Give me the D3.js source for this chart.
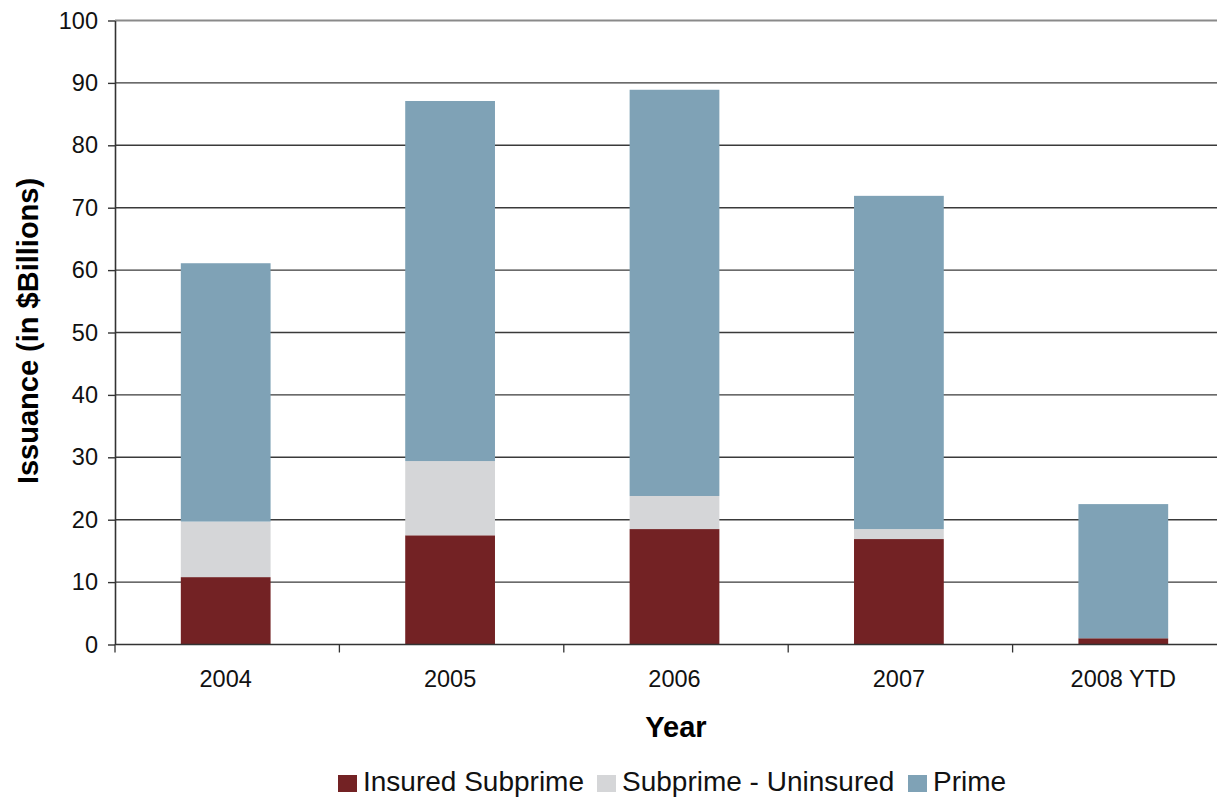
<!DOCTYPE html>
<html>
<head>
<meta charset="utf-8">
<script src="https://cdn.jsdelivr.net/npm/d3@7"></script>
<style>
  html, body { margin: 0; padding: 0; background: #fff; }
  svg { display: block; font-family: "Liberation Sans", Arial, sans-serif; }
</style>
</head>
<body>
<svg id="chart" width="1217" height="798"></svg>
<script>
// Issuance by year, stacked by segment ($ billions)
const years = ["2004", "2005", "2006", "2007", "2008 YTD"];
const insuredSubprime = [10.8, 17.5, 18.5, 16.9, 1.0];
const subprimeUninsured = [8.9, 11.9, 5.3, 1.6, 0.0];
const prime = [41.4, 57.7, 65.1, 53.4, 21.5];

const seriesNames = ["Insured Subprime", "Subprime - Uninsured", "Prime"];
const seriesColors = ["#732224", "#d5d6d8", "#7fa2b6"];
const yTicks = [0, 10, 20, 30, 40, 50, 60, 70, 80, 90, 100];

const svg = d3.select("#chart");
const margin = { left: 115, right: 1237, top: 20.5, bottom: 644.5 };

const x = d3.scaleBand().domain(years).range([margin.left, margin.right]).paddingInner(0.6).paddingOuter(0.3);
const xEdges = d3.scaleBand().domain(years).range([margin.left, margin.right]);
const y = d3.scaleLinear().domain([0, 100]).range([margin.bottom, margin.top]);

const rows = years.map((yr, i) => ({
  year: yr,
  "Insured Subprime": insuredSubprime[i],
  "Subprime - Uninsured": subprimeUninsured[i],
  "Prime": prime[i]
}));
const stacked = d3.stack().keys(seriesNames)(rows);

// horizontal gridlines
svg.append("g")
  .selectAll("line")
  .data(yTicks.filter(t => t > 0))
  .join("line")
  .attr("x1", margin.left).attr("x2", margin.right)
  .attr("y1", d => y(d)).attr("y2", d => y(d))
  .attr("stroke", d => d === 100 ? "#8a8a8a" : "#3a3a3a")
  .attr("stroke-width", d => d === 100 ? 2.2 : 1.4);

// stacked bars
svg.append("g")
  .selectAll("g")
  .data(stacked)
  .join("g")
  .attr("fill", (d, i) => seriesColors[i])
  .selectAll("rect")
  .data(d => d)
  .join("rect")
  .attr("x", d => x(d.data.year) - 1.5)
  .attr("width", x.bandwidth())
  .attr("y", d => y(d[1]))
  .attr("height", d => Math.max(0, y(d[0]) - y(d[1])));

// y axis
const yAxis = d3.axisLeft(y).tickValues(yTicks).tickSize(7).tickPadding(10).tickSizeOuter(0);
const gy = svg.append("g").attr("transform", `translate(${margin.left},0)`).call(yAxis);
gy.select(".domain").attr("stroke", "#333").attr("stroke-width", 1.6);
gy.selectAll(".tick line").attr("stroke", "#333").attr("stroke-width", 1.4);
gy.selectAll(".tick text").attr("font-size", 23.5).attr("fill", "#111")
  .attr("font-family", "'Liberation Sans', Arial, sans-serif");

// x axis baseline with category-boundary ticks
svg.append("line")
  .attr("x1", margin.left).attr("x2", margin.right)
  .attr("y1", y(0)).attr("y2", y(0))
  .attr("stroke", "#333").attr("stroke-width", 1.6);
const boundaries = years.map(d => xEdges(d)).concat([margin.right]);
svg.append("g").selectAll("line").data(boundaries).join("line")
  .attr("x1", d => d).attr("x2", d => d)
  .attr("y1", y(0)).attr("y2", y(0) + 8)
  .attr("stroke", "#333").attr("stroke-width", 1.3);

// category labels
svg.append("g").selectAll("text").data(years).join("text")
  .attr("x", d => x(d) + x.bandwidth() / 2 - 1.5)
  .attr("y", 687)
  .attr("text-anchor", "middle")
  .attr("font-size", 23.5)
  .attr("fill", "#111")
  .text(d => d);

// axis titles
svg.append("text")
  .attr("x", 676).attr("y", 737)
  .attr("text-anchor", "middle")
  .attr("font-size", 29).attr("font-weight", "bold")
  .attr("fill", "#000")
  .text("Year");

svg.append("text")
  .attr("transform", "translate(38,331) rotate(-90)")
  .attr("text-anchor", "middle")
  .attr("font-size", 29).attr("font-weight", "bold")
  .attr("fill", "#000")
  .text("Issuance (in $Billions)");

// legend
const legendX = [338, 597, 908];
const legend = svg.append("g").selectAll("g").data(seriesNames).join("g")
  .attr("transform", (d, i) => `translate(${legendX[i]},0)`);
legend.append("rect")
  .attr("x", 0).attr("y", 775).attr("width", 19).attr("height", 17)
  .attr("fill", (d, i) => seriesColors[i]);
legend.append("text")
  .attr("x", 25).attr("y", 791)
  .attr("font-size", 28)
  .attr("fill", "#111")
  .text(d => d);
</script>
</body>
</html>
